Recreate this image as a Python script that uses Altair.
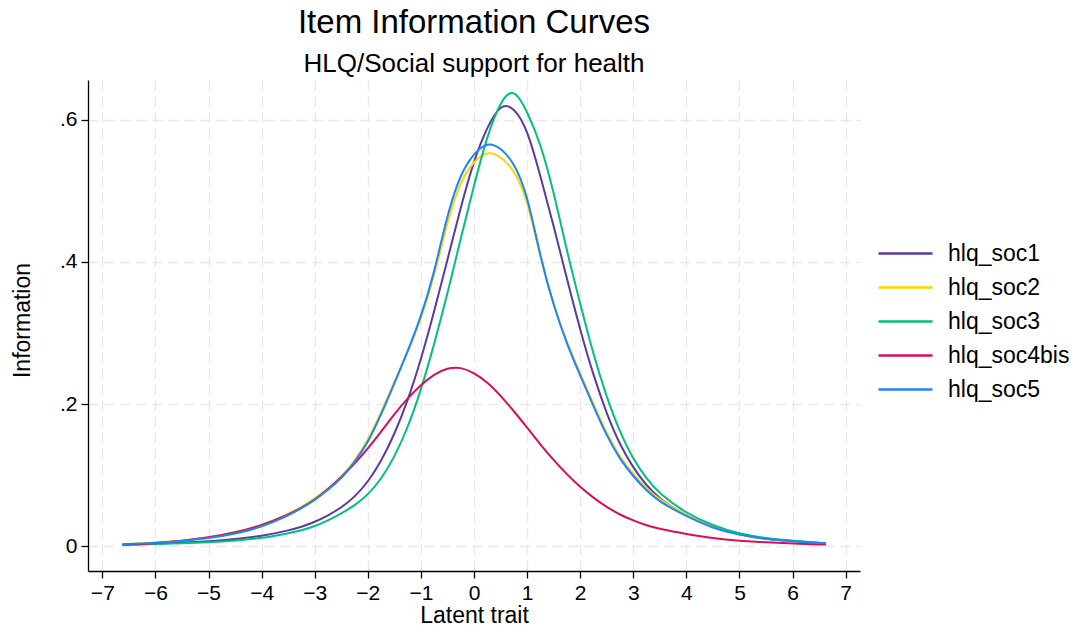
import altair as alt
import pandas as pd

# ---- data ----
theta = [-6.62, -6, -5.5, -5, -4.5, -4,
         -3.5, -3.25, -3, -2.75, -2.5, -2.25, -2, -1.75, -1.5, -1.25, -1, -0.75,
         -0.5, -0.25, 0, 0.25, 0.5, 0.75, 1, 1.25, 1.5, 1.75, 2, 2.25, 2.5, 2.75,
         3, 3.25, 3.5,
         4, 4.5, 5, 5.5, 6, 6.63]

hlq_soc1 = [0.002, 0.0035, 0.0049, 0.0068, 0.0098, 0.014,
            0.022, 0.027, 0.034, 0.043, 0.054, 0.069, 0.090, 0.119, 0.157, 0.204,
            0.262, 0.330, 0.403, 0.477, 0.544, 0.590, 0.623, 0.618, 0.588, 0.521,
            0.451, 0.376, 0.304, 0.240, 0.186, 0.142, 0.110, 0.085, 0.066,
            0.042, 0.027, 0.016, 0.010, 0.0068, 0.004]

hlq_soc2 = [0.0025, 0.0048, 0.0075, 0.012, 0.019, 0.029,
            0.045, 0.055, 0.067, 0.081, 0.097, 0.120, 0.148, 0.188, 0.231, 0.273,
            0.319, 0.379, 0.458, 0.515, 0.542, 0.556, 0.549, 0.530, 0.490, 0.405,
            0.339, 0.286, 0.243, 0.200, 0.158, 0.125, 0.101, 0.081, 0.065,
            0.043, 0.026, 0.0158, 0.0105, 0.0068, 0.004]

hlq_soc3 = [0.0018, 0.003, 0.004, 0.0055, 0.0078, 0.011,
            0.018, 0.022, 0.028, 0.036, 0.046, 0.057, 0.072, 0.094, 0.125, 0.166,
            0.219, 0.284, 0.355, 0.433, 0.508, 0.578, 0.627, 0.646, 0.612, 0.568,
            0.499, 0.415, 0.341, 0.269, 0.209, 0.160, 0.122, 0.095, 0.073,
            0.046, 0.029, 0.017, 0.011, 0.0075, 0.004]

hlq_soc4bis = [0.002, 0.004, 0.0072, 0.012, 0.019, 0.029,
               0.044, 0.054, 0.065, 0.080, 0.097, 0.116, 0.137, 0.161, 0.186, 0.208,
               0.227, 0.242, 0.251, 0.252, 0.244, 0.231, 0.212, 0.190, 0.167, 0.143,
               0.121, 0.101, 0.083, 0.068, 0.055, 0.044, 0.036, 0.029, 0.024,
               0.017, 0.011, 0.0075, 0.0052, 0.0038, 0.0022]

hlq_soc5 = [0.0025, 0.0045, 0.007, 0.011, 0.017, 0.027,
            0.043, 0.053, 0.065, 0.079, 0.095, 0.118, 0.145, 0.185, 0.229, 0.274,
            0.322, 0.384, 0.468, 0.525, 0.553, 0.569, 0.561, 0.540, 0.497, 0.406,
            0.338, 0.284, 0.240, 0.197, 0.155, 0.122, 0.098, 0.078, 0.062,
            0.042, 0.025, 0.0155, 0.0102, 0.0068, 0.004]

items = ["hlq_soc1", "hlq_soc2", "hlq_soc3", "hlq_soc4bis", "hlq_soc5"]
colors = ["#5d3a9b", "#ffd400", "#00bf7f", "#d41159", "#1a85ff"]
x_ticks = [-7, -6, -5, -4, -3, -2, -1, 0, 1, 2, 3, 4, 5, 6, 7]
y_ticks = [0, 0.2, 0.4, 0.6]

series = [hlq_soc1, hlq_soc2, hlq_soc3, hlq_soc4bis, hlq_soc5]
rows = []
for name, vals in zip(items, series):
    for t, v in zip(theta, vals):
        rows.append({"theta": t, "info": v, "item": name})
df = pd.DataFrame(rows)

FONT = "Liberation Sans"

chart = alt.Chart(df).mark_line(strokeWidth=2, interpolate="basis").encode(
    x=alt.X("theta:Q",
            scale=alt.Scale(domain=[-7.27, 7.27], nice=False, zero=False),
            axis=alt.Axis(values=x_ticks, title="Latent trait", format="d",
                          titleY=51, titleBaseline="alphabetic")),
    y=alt.Y("info:Q",
            scale=alt.Scale(domain=[-0.035, 0.656], nice=False, zero=False),
            axis=alt.Axis(values=y_ticks, title="Information",
                          labelExpr="datum.value == 0 ? '0' : replace(format(datum.value, '.1f'), '0.', '.')",
                          titleX=-66, titleY=240, titleAngle=270,
                          titleBaseline="middle", titleAlign="center")),
    color=alt.Color("item:N",
                    scale=alt.Scale(domain=items, range=colors),
                    legend=alt.Legend(title=None, orient="none",
                                      legendX=806, legendY=162)),
).properties(
    width=772,
    height=491,
    title=alt.TitleParams(
        text="Item Information Curves",
        subtitle="HLQ/Social support for health",
        font=FONT, subtitleFont=FONT,
        fontSize=33, subtitleFontSize=26,
        fontWeight="normal", subtitleFontWeight="normal",
        color="black", subtitleColor="black",
        anchor="middle", offset=3, subtitlePadding=11,
    ),
    autosize=alt.AutoSizeParams(type="none"),
    padding={"left": 80, "top": 72, "right": 211, "bottom": 52},
).configure_view(
    stroke=None
).configure_axis(
    labelFont=FONT, titleFont=FONT,
    labelFontSize=21, titleFontSize=23,
    labelColor="black", titleColor="black",
    titleFontWeight="normal",
    domainColor="black", domainWidth=1.3,
    tickColor="black", tickWidth=1.3, tickSize=7,
    labelPadding=4,
    grid=True, gridColor="#e8e8e8", gridDash=[10, 6], gridWidth=1.4,
).configure_legend(
    labelFont=FONT, labelFontSize=23, labelColor="black",
    symbolType="M-3,0H3", symbolSize=324, symbolStrokeWidth=2.5,
    rowPadding=10, labelOffset=31, padding=0,
)

chart.save("out.html", embed_options={"renderer": "svg", "actions": False})
